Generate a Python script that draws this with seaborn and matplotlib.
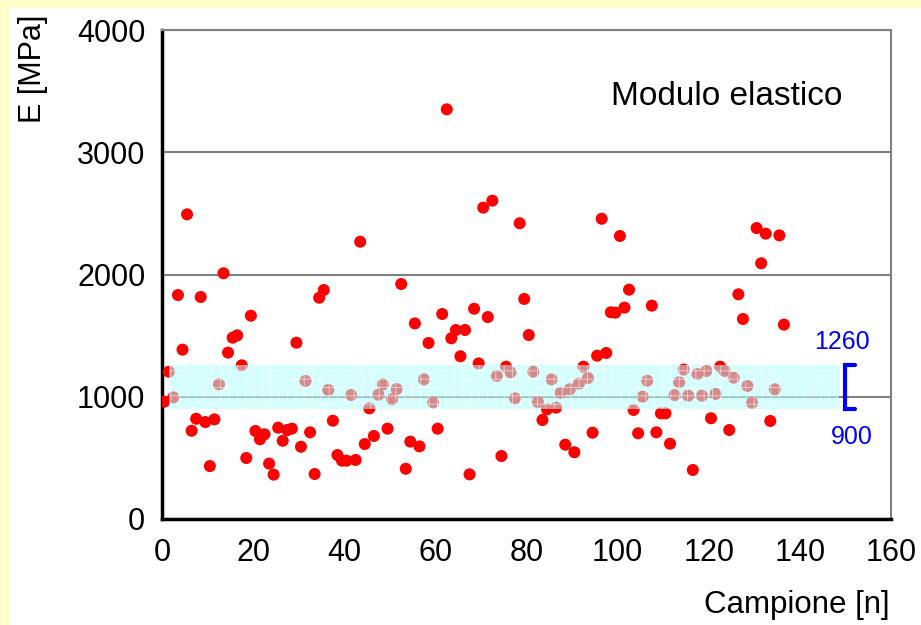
import matplotlib
matplotlib.use('Agg')
import matplotlib.pyplot as plt
import seaborn as sns
import numpy as np
import pandas as pd
from matplotlib.patches import Rectangle

# sample number and elastic modulus E [MPa]
# (points sit about half a unit right of the integer grid)
campione = np.arange(137) + 0.5
modulo = [
    960, 1205, 995, 1832, 1385, 2492, 722, 820, 1816, 793,
    433, 815, 1102, 2010, 1361, 1483, 1502, 1257, 499, 1663,
    720, 652, 693, 453, 363, 747, 640, 728, 739, 1442,
    591, 1129, 709, 368, 1810, 1873, 1056, 804, 523, 477,
    477, 1014, 483, 2268, 613, 905, 679, 1017, 1101, 739,
    979, 1063, 1922, 411, 633, 1600, 594, 1142, 1440, 954,
    739, 1677, 3351, 1478, 1546, 1331, 1546, 365, 1720, 1273,
    2547, 1652, 2604, 1170, 515, 1246, 1200, 987, 2419, 1800,
    1505, 1205, 957, 810, 897, 1142, 911, 1033, 608, 1061,
    546, 1107, 1246, 1153, 706, 1336, 2456, 1358, 1691, 1688,
    2315, 1729, 1876, 892, 701, 1001, 1131, 1745, 709, 864,
    864, 616, 1014, 1118, 1222, 1009, 401, 1186, 1009, 1211,
    824, 1023, 1246, 1211, 728, 1156, 1838, 1636, 1088, 951,
    2380, 2092, 2334, 802, 1061, 2320, 1590,
]

# reference range
band_low, band_high = 900, 1260
band_x = (1.5, 148.5)

sns.set_style('white')
plt.rcParams['font.family'] = ['Liberation Sans', 'DejaVu Sans']
plt.rcParams['text.color'] = 'black'
plt.rcParams['xtick.color'] = 'black'
plt.rcParams['ytick.color'] = 'black'
plt.rcParams['hatch.linewidth'] = 0.6

fig = plt.figure(figsize=(9.21, 6.25), dpi=100, facecolor='#ffffcc')
# white sheet, yellow only on left/top edge
fig.patches.append(Rectangle((10 / 921, 0), 1, 1 - 8 / 625, transform=fig.transFigure,
                             facecolor='white', edgecolor='none', zorder=-10))
ax = fig.add_axes([162 / 921, 1 - 519 / 625, (891 - 162) / 921, (519 - 30) / 625])
ax.set_zorder(1)
ax.set_facecolor('white')

df = pd.DataFrame({'Campione': campione, 'E': modulo})
sns.scatterplot(data=df, x='Campione', y='E', ax=ax, color='#ff0000', s=75,
                edgecolor='none', linewidth=0, zorder=3, legend=False)

ax.add_patch(Rectangle((band_x[0], band_low), band_x[1] - band_x[0], band_high - band_low,
                       facecolor=(0.69, 1, 1, 0.55), edgecolor=(1, 1, 1, 0.6),
                       hatch='++', linewidth=0, zorder=4))

# bracket for the range
ax.plot([152, 150, 150, 152], [band_high, band_high, band_low, band_low],
        color='blue', lw=3, clip_on=False, zorder=5, solid_joinstyle='miter')
ax.text(149.3, 1448, str(band_high), color='blue', fontsize=18, ha='center', va='center')
ax.text(151.5, 670, str(band_low), color='blue', fontsize=18, ha='center', va='center')

ax.text(124, 3460, 'Modulo elastico', fontsize=24, ha='center', va='center')

ax.set_xlim(0, 160)
ax.set_ylim(0, 4000)
ax.set_xticks(range(0, 161, 20))
ax.set_yticks(range(0, 4001, 1000))
ax.set_xlabel('')
ax.set_ylabel('')
ax.grid(axis='y', color='#808080', lw=1.5)
ax.set_axisbelow(True)
for s in ['left', 'bottom']:
    ax.spines[s].set_color('black')
    ax.spines[s].set_linewidth(2.5)
for s in ['top', 'right']:
    ax.spines[s].set_color('#808080')
    ax.spines[s].set_linewidth(1.5)
ax.tick_params(axis='both', labelsize=22, direction='out', length=4, width=1.5, color='black')
ax.tick_params(axis='x', pad=10)
ax.tick_params(axis='y', pad=8)

fig.text(33 / 921, 1 - 69 / 625, 'E [MPa]', rotation=90, ha='center', va='center', fontsize=22)
fig.text(890 / 921, 1 - 605 / 625, 'Campione [n]', ha='right', va='center', fontsize=22.5)

fig.savefig('out.png', dpi=100, facecolor=fig.get_facecolor())
